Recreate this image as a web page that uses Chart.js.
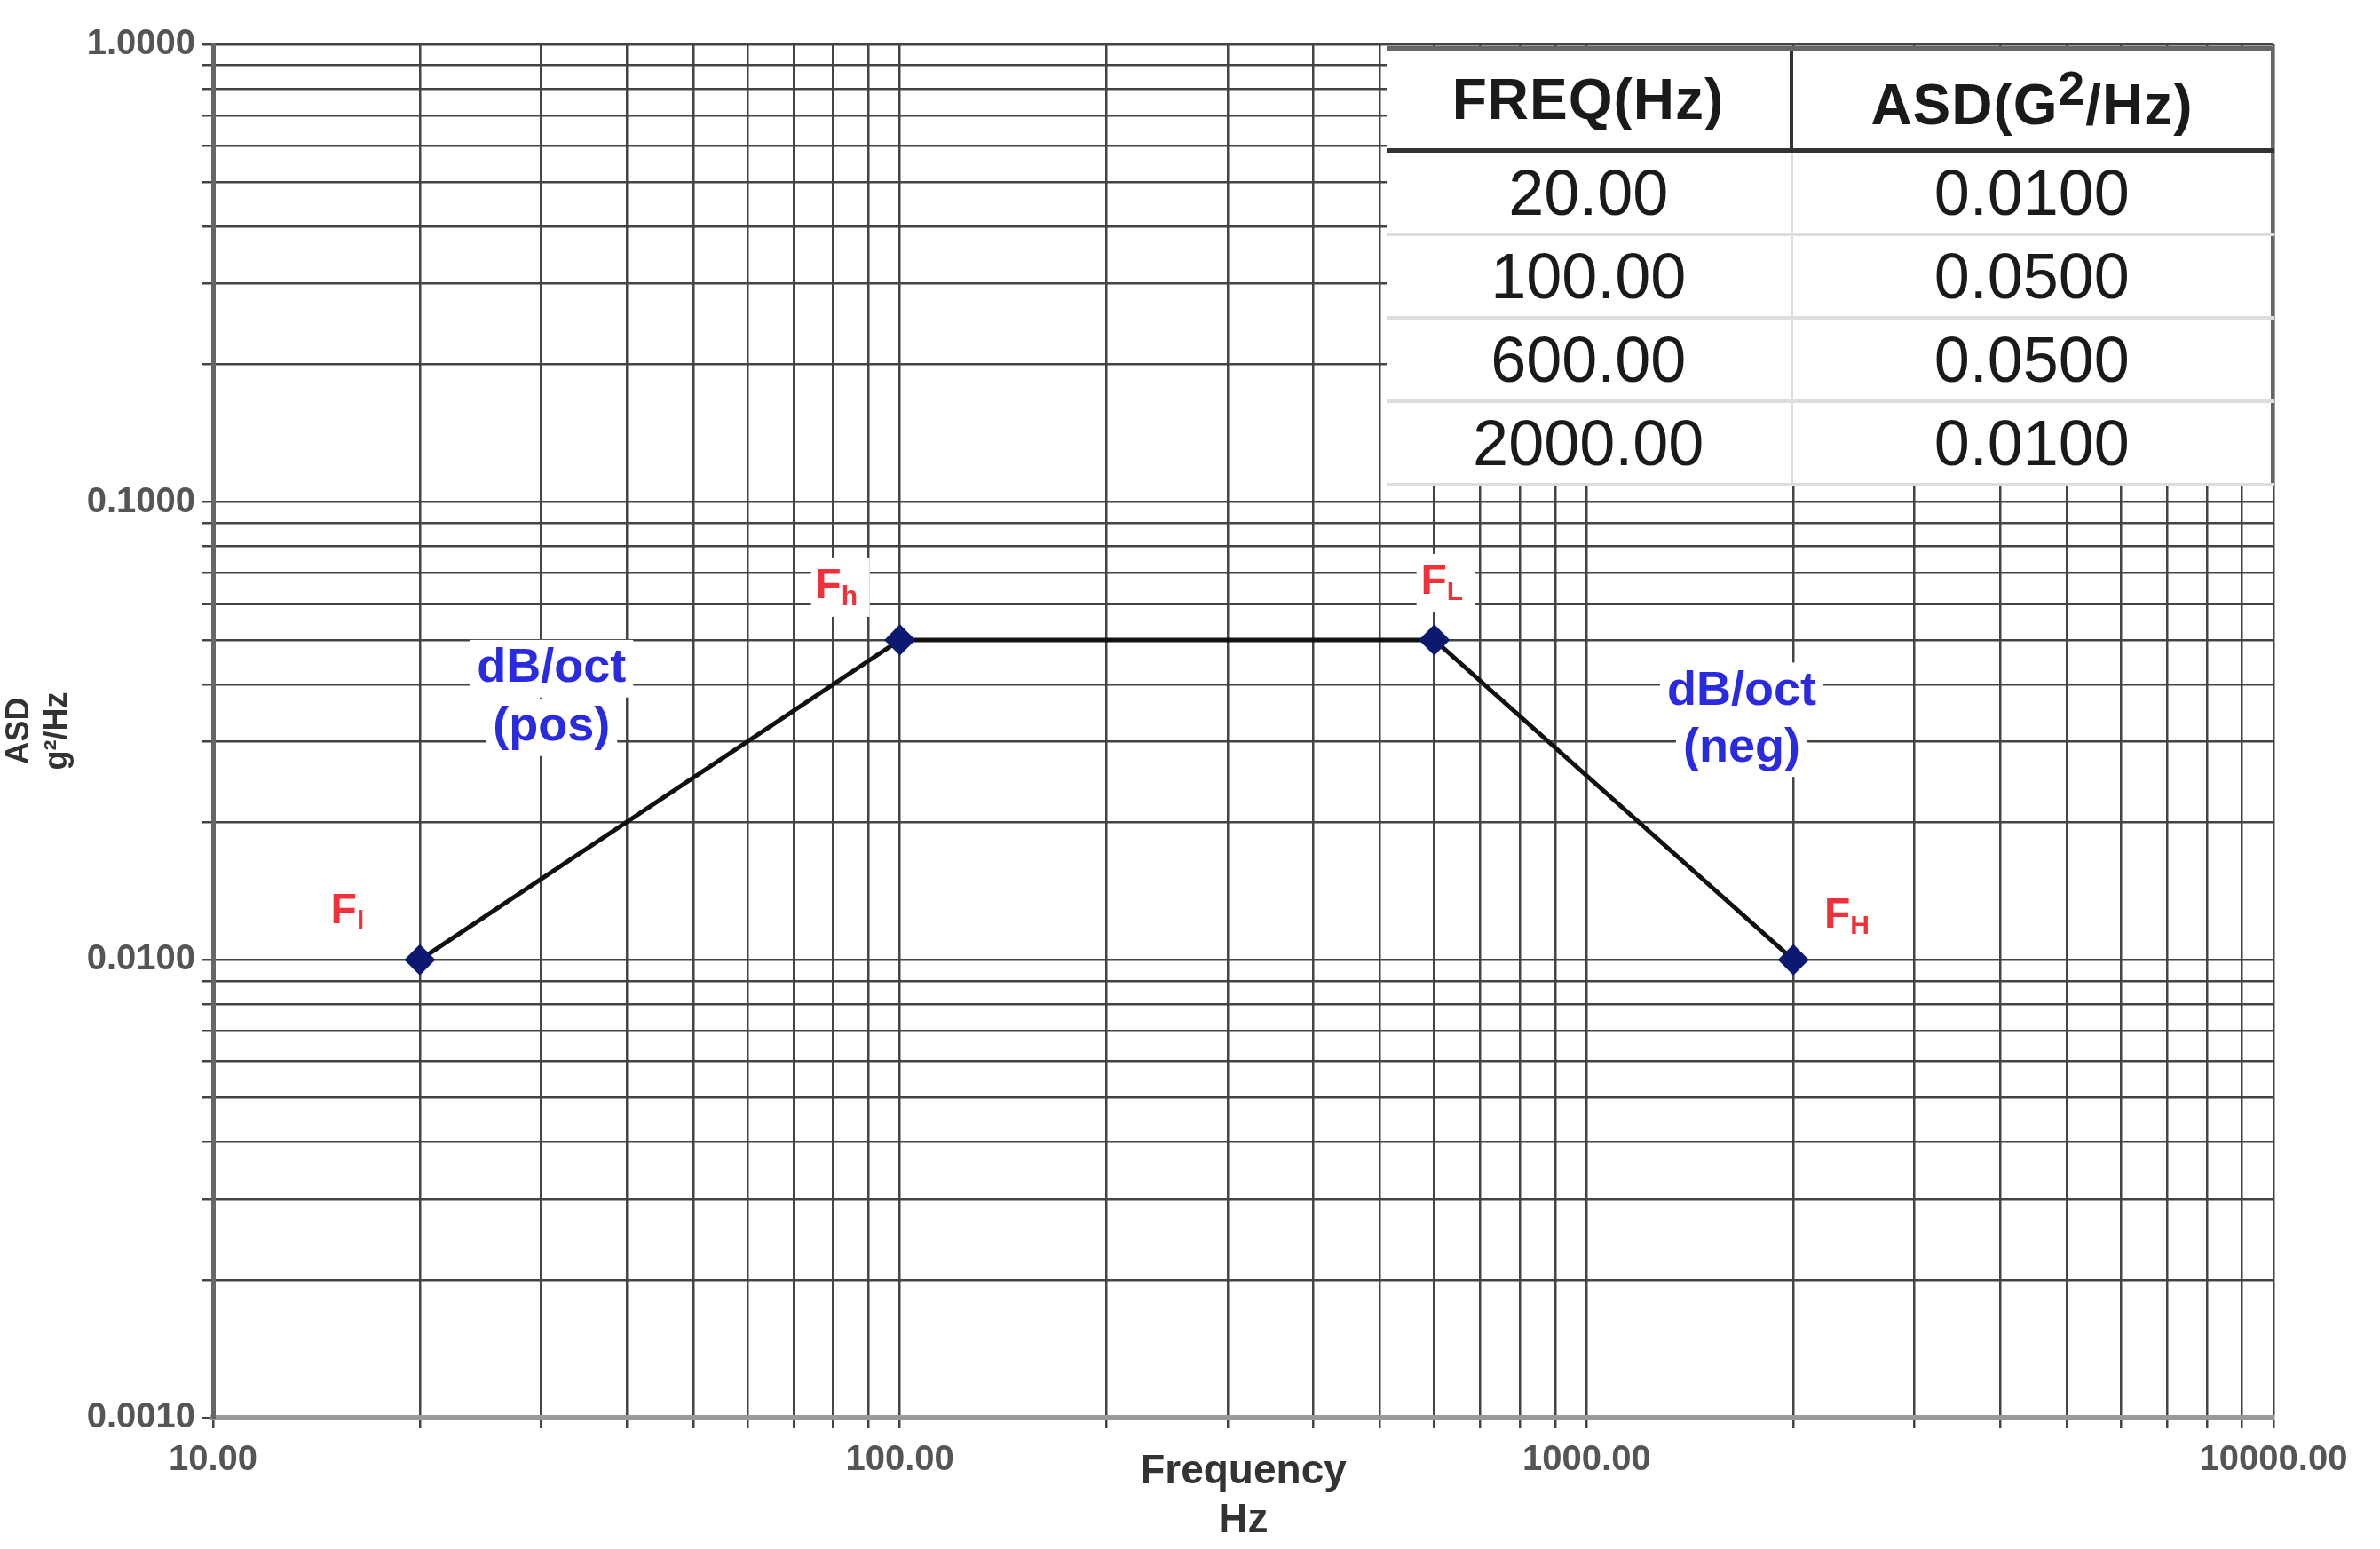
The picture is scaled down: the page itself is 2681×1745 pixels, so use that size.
<!DOCTYPE html>
<html>
<head>
<meta charset="utf-8">
<script src="https://cdn.jsdelivr.net/npm/chart.js@4"></script>
<style>
  html, body { margin: 0; padding: 0; background: #fff; }
  #wrap { position: relative; width: 2681px; height: 1745px; }
  #asdTable {
    position: absolute; left: 1562px; top: 52px; width: 1000px;
    border-collapse: collapse; background: #fff;
    font-family: "Liberation Sans", Arial, sans-serif; color: #1a1a1a;
  }
  #asdTable th {
    font-size: 64px; font-weight: bold; height: 108px; letter-spacing: 1px;
    border-bottom: 5px solid #333; border-top: 5px solid #666;
  }
  #asdTable th:first-child { border-right: 4px solid #333; }
  #asdTable td {
    font-size: 72px; text-align: center; height: 88px;
    border-bottom: 4px solid #ddd;
  }
  #asdTable td:first-child { border-right: 3px solid #ddd; }
  #asdTable th:last-child, #asdTable td:last-child { border-right: 4px solid #666; }
</style>
</head>
<body>
<div id="wrap">
  <canvas id="chartAsd" width="2681" height="1745"></canvas>
  <table id="asdTable"></table>
</div>
<script>
/* =========================
   DADOS
========================= */

const freqs = [20, 100, 600, 2000];
const asdValues = [0.01, 0.05, 0.05, 0.01];
const freqLabels = ["20.00", "100.00", "600.00", "2000.00"];
const asdLabels = ["0.0100", "0.0500", "0.0500", "0.0100"];
const pointNames = [["F", "l"], ["F", "h"], ["F", "L"], ["F", "H"]];
const tableHeader = ["FREQ(Hz)", "ASD(G<sup>2</sup>/Hz)"];

/* =========================
   TABELA
========================= */

const table = document.getElementById("asdTable");
table.innerHTML =
  "<tr><th>" + tableHeader[0] + "</th><th>" + tableHeader[1] + "</th></tr>" +
  freqLabels.map((f, i) => "<tr><td>" + f + "</td><td>" + asdLabels[i] + "</td></tr>").join("");

/* =========================
   TICKS LOG
========================= */

function logTicks(min, max) {
  const ticks = [];
  for (let d = min; d < max; d *= 10) {
    for (let m = 1; m < 10; m++) ticks.push({ value: d * m });
  }
  ticks.push({ value: max });
  return ticks;
}

function isDecade(v) {
  const l = Math.log10(v);
  return Math.abs(l - Math.round(l)) < 1e-9;
}

/* =========================
   RÓTULOS
========================= */

function drawLabel(ctx, x, y, text, color, size) {
  ctx.font = "bold " + size + "px 'Liberation Sans', Arial, sans-serif";
  const w = ctx.measureText(text).width;
  ctx.fillStyle = "#fff";
  ctx.fillRect(x - w / 2 - 8, y - size * 0.6, w + 16, size * 1.2);
  ctx.fillStyle = color;
  ctx.textAlign = "center";
  ctx.textBaseline = "middle";
  ctx.fillText(text, x, y);
}

const labelPlugin = {
  id: "asdLabels",
  afterDatasetsDraw(chart) {
    const { ctx, scales } = chart;
    const offs = [[-75, -55], [-70, -60], [10, -65], [60, -50]];
    ctx.save();
    freqs.forEach((f, i) => {
      const x = scales.x.getPixelForValue(f) + offs[i][0];
      const y = scales.y.getPixelForValue(asdValues[i]) + offs[i][1];
      ctx.font = "bold 48px 'Liberation Sans', Arial, sans-serif";
      ctx.fillStyle = "#fff";
      ctx.fillRect(x - 30, y - 32, 66, 66);
      ctx.fillStyle = "#f0303a";
      ctx.textAlign = "right";
      ctx.textBaseline = "middle";
      ctx.fillText(pointNames[i][0], x + 4, y);
      ctx.font = "bold 30px 'Liberation Sans', Arial, sans-serif";
      ctx.textAlign = "left";
      ctx.fillText(pointNames[i][1], x + 4, y + 12);
    });
    const px = scales.x.getPixelForValue(Math.sqrt(20 * 100));
    const py = scales.y.getPixelForValue(0.03);
    drawLabel(ctx, px - 122, py - 82, "dB/oct", "#2a2ae0", 54);
    drawLabel(ctx, px - 122, py - 16, "(pos)", "#2a2ae0", 54);
    const nx = scales.x.getPixelForValue(Math.sqrt(600 * 2000));
    const ny = scales.y.getPixelForValue(0.028);
    drawLabel(ctx, nx + 144, ny - 72, "dB/oct", "#2a2ae0", 54);
    drawLabel(ctx, nx + 144, ny - 8, "(neg)", "#2a2ae0", 54);
    ctx.restore();
  }
};

/* =========================
   CHART
========================= */

const tickFont = { family: "'Liberation Sans', Arial, sans-serif", size: 40, weight: "bold" };

new Chart(document.getElementById("chartAsd"), {
  type: "scatter",
  data: {
    datasets: [{
      data: freqs.map((f, i) => ({ x: f, y: asdValues[i] })),
      showLine: true,
      borderColor: "#111",
      borderWidth: 5,
      pointStyle: "rectRot",
      pointRadius: 14,
      pointBackgroundColor: "#0b1a70",
      pointBorderColor: "#0b1a70"
    }]
  },
  options: {
    responsive: false,
    animation: false,
    devicePixelRatio: 1,
    layout: { padding: { top: 50, right: 120, left: 0, bottom: 0 } },
    plugins: { legend: { display: false }, tooltip: { enabled: false } },
    scales: {
      x: {
        type: "logarithmic",
        min: 10, max: 10000,
        afterBuildTicks: s => { s.ticks = logTicks(10, 10000); },
        afterFit: s => { s.height = 148; },
        grid: { color: "#444", lineWidth: 2.5, tickLength: 12, drawTicks: true },
        border: { color: "#999", width: 6 },
        ticks: {
          autoSkip: false, maxRotation: 0, color: "#555", font: tickFont, padding: 12,
          callback: v => isDecade(v) ? v.toFixed(2) : ""
        },
        title: {
          display: true, text: ["Frequency", "Hz"], color: "#333",
          font: { family: "'Liberation Sans', Arial, sans-serif", size: 46, weight: "bold" },
          padding: { top: -44 }
        }
      },
      y: {
        type: "logarithmic",
        min: 0.001, max: 1,
        afterBuildTicks: s => { s.ticks = logTicks(0.001, 1); },
        afterFit: s => { s.width = 240; },
        grid: { color: "#444", lineWidth: 2.5, tickLength: 12 },
        border: { color: "#666", width: 5 },
        ticks: {
          autoSkip: false, color: "#555", font: tickFont, padding: 8,
          callback: v => isDecade(v) ? v.toFixed(4) : ""
        },
        title: {
          display: true, text: ["ASD", "g²/Hz"], color: "#333",
          font: { family: "'Liberation Sans', Arial, sans-serif", size: 36, weight: "bold" },
          padding: 0
        }
      }
    }
  },
  plugins: [labelPlugin]
});
</script>
</body>
</html>
